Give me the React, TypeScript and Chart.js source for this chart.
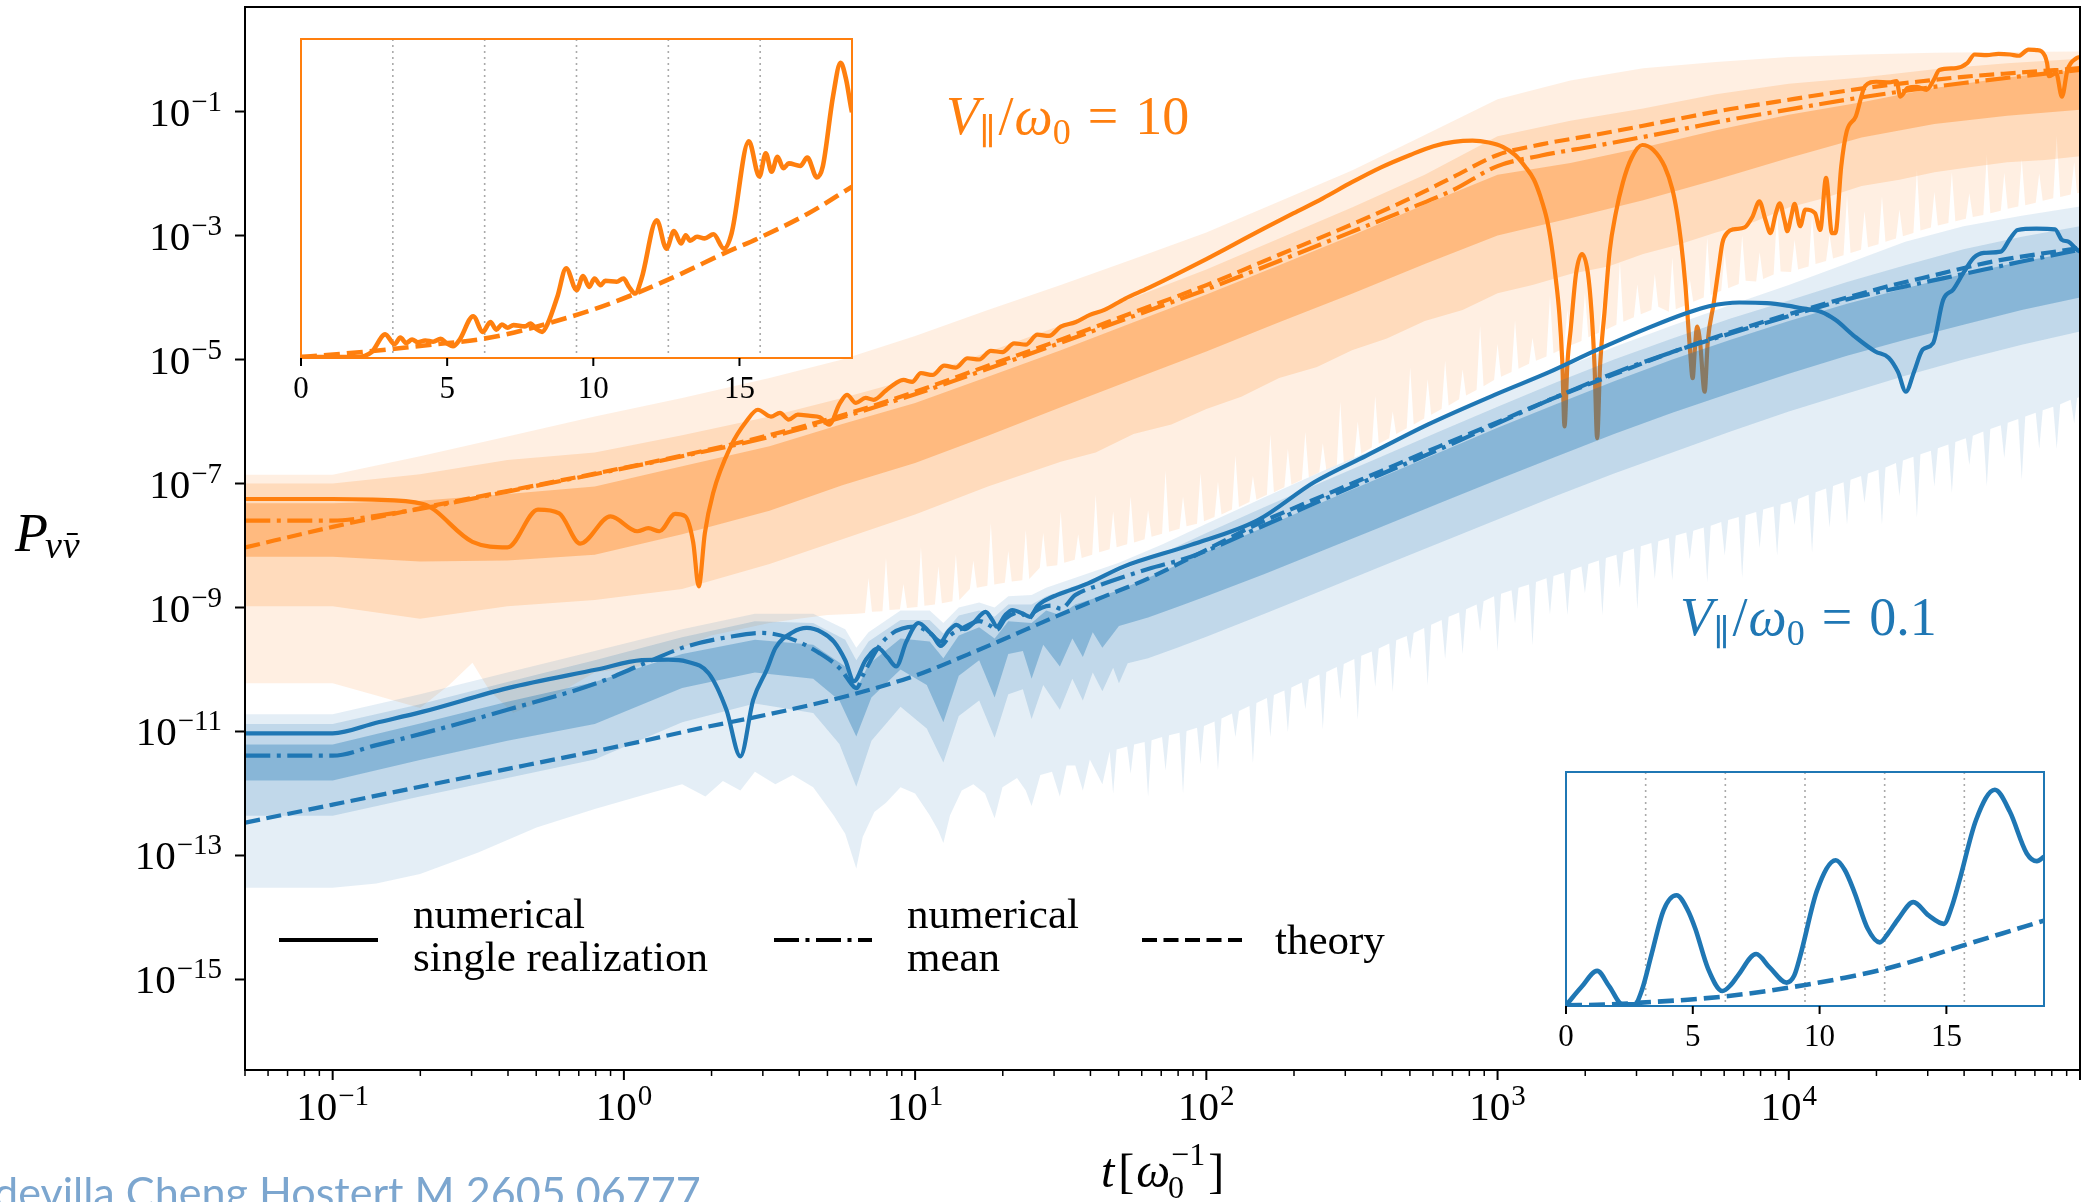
import React, { useEffect, useRef } from 'react';
import { Chart, registerables } from 'chart.js';

Chart.register(...registerables);

const SERIF = '"Liberation Serif", "DejaVu Serif", serif';
const SANS = 'Lato, "Open Sans", sans-serif';
const ORANGE = '#ff7f0e';
const BLUE = '#1f77b4';

// ---------- axes ----------
const X_MIN = 0.05;
const X_MAX = 1e5;
const Y_MIN_EXP = -16.46;
const Y_MAX_EXP = 0.686;
const X_TICK_EXPONENTS = [-1, 0, 1, 2, 3, 4];
const Y_TICK_EXPONENTS = [-1, -3, -5, -7, -9, -11, -13, -15];
const INSET_TICKS = [0, 5, 10, 15];
const INSET_T_MAX = 6 * Math.PI;
const INSET_GRID_MULTIPLES = [1, 2, 3, 4, 5]; // dotted lines at k*pi
const LEGEND_LABELS = [['numerical', 'single realization'], ['numerical', 'mean'], ['theory']];
const ANNOTATION_VALUES = ['10', '0.1'];
const WATERMARK = 'devilla Cheng Hostert M 2605.06777';

// ---------- main plot data: [log10 t, log10 P] ----------
const orangeTheoryLog = [
  [-1.3, -8.03], [-1.0, -7.7], [-0.7, -7.4], [-0.4, -7.12], [-0.1, -6.84], [0.2, -6.55], [0.5, -6.22],
  [0.75, -5.9], [1.0, -5.52], [1.25, -5.1], [1.5, -4.68], [1.75, -4.24], [2.0, -3.8], [2.25, -3.31],
  [2.5, -2.82], [2.7, -2.4], [2.85, -2.05], [3.0, -1.7], [3.15, -1.53], [3.33, -1.38], [3.5, -1.23],
  [3.64, -1.1], [3.8, -0.96], [3.96, -0.84], [4.12, -0.72], [4.28, -0.61], [4.44, -0.52], [4.6, -0.44],
  [4.8, -0.37], [5.0, -0.3],
];
const orangeMeanLog = [
  [-1.3, -7.6], [-1.0, -7.6], [-0.85, -7.52], [-0.7, -7.41], [-0.4, -7.13], [-0.1, -6.85], [0.2, -6.56],
  [0.5, -6.25], [0.75, -5.93], [1.0, -5.56], [1.25, -5.15], [1.5, -4.73], [1.75, -4.3], [2.0, -3.87],
  [2.25, -3.41], [2.5, -2.94], [2.7, -2.56], [2.85, -2.26], [3.0, -1.88], [3.15, -1.71], [3.33, -1.56],
  [3.5, -1.41], [3.64, -1.28], [3.8, -1.13], [3.96, -1.0], [4.12, -0.87], [4.28, -0.75], [4.44, -0.64],
  [4.6, -0.54], [4.8, -0.43], [5.0, -0.33],
];
const orangeSingleLog = [
  [-1.3, -7.25], [-1.0, -7.25], [-0.86, -7.26], [-0.69, -7.33], [-0.52, -7.94], [-0.4, -8.03], [-0.295, -7.42],
  [-0.222, -7.48], [-0.15, -7.97], [-0.046, -7.53], [0.046, -7.77], [0.084, -7.72], [0.122, -7.77],
  [0.176, -7.49], [0.211, -7.53], [0.238, -7.95], [0.257, -8.66], [0.278, -7.8], [0.306, -7.16],
  [0.367, -6.4], [0.42, -6.0], [0.46, -5.81], [0.505, -5.92], [0.536, -5.86], [0.566, -5.97], [0.597, -5.89],
  [0.64, -5.91], [0.673, -5.93], [0.705, -6.05], [0.74, -5.72], [0.766, -5.57], [0.797, -5.7], [0.83, -5.62],
  [0.858, -5.65], [0.9, -5.5], [0.934, -5.38], [0.96, -5.33], [0.99, -5.36], [1.02, -5.22], [1.06, -5.25],
  [1.1, -5.1], [1.14, -5.13], [1.18, -4.98], [1.22, -5.0], [1.26, -4.86], [1.3, -4.88], [1.34, -4.74],
  [1.38, -4.76], [1.42, -4.6], [1.46, -4.62], [1.5, -4.47], [1.55, -4.4], [1.6, -4.28], [1.65, -4.2],
  [1.72, -4.02], [1.8, -3.85], [1.9, -3.62], [2.0, -3.38], [2.1, -3.13], [2.2, -2.88], [2.3, -2.64],
  [2.4, -2.4], [2.5, -2.14], [2.6, -1.9], [2.7, -1.7], [2.78, -1.56], [2.85, -1.49], [2.914, -1.47],
  [2.97, -1.5], [3.018, -1.57], [3.06, -1.7], [3.095, -1.89], [3.125, -2.1], [3.147, -2.37], [3.17, -2.75],
  [3.186, -3.18], [3.2, -3.7], [3.212, -4.25], [3.222, -5.0], [3.23, -6.08], [3.24, -5.05], [3.251, -4.52],
  [3.27, -3.6], [3.29, -3.3], [3.31, -3.6], [3.323, -4.25], [3.333, -5.1], [3.342, -6.27], [3.352, -5.1],
  [3.367, -4.25], [3.385, -3.25], [3.406, -2.64], [3.43, -2.15], [3.46, -1.75], [3.497, -1.54],
  [3.535, -1.62], [3.574, -1.89], [3.6, -2.25], [3.615, -2.6], [3.63, -3.1], [3.645, -3.8], [3.66, -4.79],
  [3.67, -5.3], [3.678, -4.8], [3.685, -4.47], [3.695, -4.7], [3.711, -5.52], [3.722, -4.7], [3.742, -4.1],
  [3.76, -3.5], [3.772, -3.12], [3.79, -2.95], [3.81, -2.9], [3.848, -2.87], [3.875, -2.7], [3.899, -2.45],
  [3.92, -2.75], [3.937, -2.96], [3.955, -2.65], [3.969, -2.48], [3.985, -2.75], [3.995, -2.93],
  [4.008, -2.7], [4.02, -2.49], [4.039, -2.85], [4.057, -2.58], [4.09, -2.64], [4.108, -2.91],
  [4.128, -2.07], [4.148, -2.96], [4.16, -2.96], [4.18, -1.89], [4.199, -1.32], [4.23, -1.08],
  [4.262, -0.59], [4.3, -0.52], [4.345, -0.53], [4.37, -0.51], [4.383, -0.76], [4.408, -0.62], [4.44, -0.6],
  [4.473, -0.65], [4.498, -0.49], [4.517, -0.33], [4.575, -0.3], [4.613, -0.22], [4.638, -0.08],
  [4.68, -0.09], [4.72, -0.07], [4.76, -0.08], [4.79, -0.1], [4.823, 0.0], [4.85, -0.01], [4.868, -0.03],
  [4.887, -0.22], [4.893, -0.43], [4.918, -0.38], [4.938, -0.76], [4.957, -0.33], [4.988, -0.14], [5.0, -0.12],
];
const orangeLightTopLog = [
  [-1.3, -6.86], [-1.0, -6.86], [-0.7, -6.56], [-0.4, -6.24], [-0.1, -5.92], [0.2, -5.62], [0.5, -5.3],
  [0.75, -5.0], [1.0, -4.62], [1.25, -4.2], [1.5, -3.8], [1.75, -3.38], [2.0, -2.95], [2.25, -2.45],
  [2.5, -1.95], [2.75, -1.38], [3.0, -0.8], [3.25, -0.5], [3.5, -0.3], [3.75, -0.2], [4.0, -0.12],
  [4.25, -0.08], [4.5, -0.05], [4.75, -0.04], [5.0, -0.03],
];
const orangeLightBottomLog = [
  [-1.3, -10.22], [-1.0, -10.22], [-0.85, -10.42], [-0.7, -10.62], [-0.6, -10.25], [-0.52, -9.89],
  [-0.46, -10.35], [-0.38, -10.7], [-0.25, -10.45], [-0.1, -10.05], [0.05, -9.95], [0.2, -9.65], [0.3, -9.45],
  [0.4, -9.35], [0.5, -9.25], [0.6, -9.18], [0.7, -9.12], [0.8, -9.1],
  [0.828, -9.09], [0.84, -8.53], [0.852, -9.07], [0.888, -9.06], [0.9, -8.2], [0.912, -9.04],
  [0.948, -9.03], [0.96, -8.62], [0.972, -9.01], [1.008, -8.99], [1.02, -8.03], [1.032, -8.97],
  [1.068, -8.95], [1.08, -8.34], [1.092, -8.93], [1.128, -8.9], [1.14, -8.14], [1.152, -8.88],
  [1.188, -8.7], [1.2, -8.24], [1.212, -8.68], [1.248, -8.65], [1.26, -7.64], [1.272, -8.63],
  [1.308, -8.6], [1.32, -8.09], [1.332, -8.58], [1.368, -8.56], [1.38, -7.75], [1.392, -8.54],
  [1.428, -8.36], [1.44, -7.8], [1.452, -8.34], [1.488, -8.32], [1.5, -7.45], [1.512, -8.28],
  [1.548, -8.23], [1.56, -7.82], [1.572, -8.2], [1.608, -8.15], [1.62, -7.18], [1.632, -8.11],
  [1.668, -8.06], [1.68, -7.45], [1.692, -8.03], [1.728, -7.98], [1.74, -7.21], [1.752, -7.95],
  [1.788, -7.9], [1.8, -7.43], [1.812, -7.86], [1.848, -7.81], [1.86, -6.8], [1.872, -7.78],
  [1.908, -7.73], [1.92, -7.21], [1.932, -7.69], [1.968, -7.65], [1.98, -6.83], [1.992, -7.61],
  [2.028, -7.54], [2.04, -6.97], [2.052, -7.5], [2.088, -7.42], [2.1, -6.55], [2.112, -7.38],
  [2.148, -7.3], [2.16, -6.88], [2.172, -7.26], [2.208, -7.18], [2.22, -6.21], [2.232, -7.14],
  [2.268, -7.06], [2.28, -6.44], [2.292, -7.02], [2.328, -6.94], [2.34, -6.17], [2.352, -6.9],
  [2.388, -6.82], [2.4, -6.35], [2.412, -6.78], [2.448, -6.7], [2.46, -5.68], [2.472, -6.66],
  [2.508, -6.58], [2.52, -6.0], [2.532, -6.52], [2.568, -6.42], [2.58, -5.59], [2.592, -6.36],
  [2.628, -6.27], [2.64, -5.84], [2.652, -6.2], [2.688, -6.11], [2.7, -5.13], [2.712, -6.05],
  [2.748, -5.95], [2.76, -5.32], [2.772, -5.89], [2.808, -5.8], [2.82, -5.02], [2.832, -5.74],
  [2.868, -5.64], [2.88, -5.16], [2.892, -5.58], [2.928, -5.49], [2.94, -4.46], [2.952, -5.43],
  [2.988, -5.33], [3.0, -4.75], [3.012, -5.28], [3.048, -5.2], [3.06, -4.37], [3.072, -5.15],
  [3.108, -5.07], [3.12, -4.65], [3.132, -5.02], [3.168, -4.95], [3.18, -3.97], [3.192, -4.9],
  [3.228, -4.82], [3.24, -4.2], [3.252, -4.77], [3.288, -4.7], [3.3, -3.92], [3.312, -4.64],
  [3.348, -4.57], [3.36, -4.09], [3.372, -4.52], [3.408, -4.44], [3.42, -3.42], [3.432, -4.39],
  [3.468, -4.32], [3.48, -3.79], [3.492, -4.27], [3.528, -4.2], [3.54, -3.62], [3.552, -4.15],
  [3.588, -4.23], [3.6, -3.36], [3.612, -4.19], [3.648, -4.12], [3.66, -3.7], [3.672, -4.07],
  [3.708, -4.0], [3.72, -3.03], [3.732, -3.96], [3.768, -3.89], [3.78, -3.27], [3.792, -3.85],
  [3.828, -3.78], [3.84, -3.0], [3.852, -3.73], [3.888, -3.74], [3.9, -3.27], [3.912, -3.7],
  [3.948, -3.63], [3.96, -2.61], [3.972, -3.58], [4.008, -3.59], [4.02, -3.07], [4.032, -3.55],
  [4.068, -3.5], [4.08, -2.68], [4.092, -3.46], [4.128, -3.41], [4.14, -2.99], [4.152, -3.37],
  [4.188, -3.32], [4.2, -2.35], [4.212, -3.28], [4.248, -3.23], [4.26, -2.61], [4.272, -3.19],
  [4.308, -3.14], [4.32, -2.37], [4.332, -3.1], [4.368, -3.05], [4.38, -2.58], [4.392, -3.01],
  [4.428, -2.96], [4.44, -1.94], [4.452, -2.92], [4.488, -2.87], [4.5, -2.3], [4.512, -2.84],
  [4.548, -2.8], [4.56, -1.98], [4.572, -2.77], [4.608, -2.73], [4.62, -2.32], [4.632, -2.7],
  [4.668, -2.67], [4.68, -1.7], [4.692, -2.64], [4.728, -2.6], [4.74, -1.99], [4.752, -2.57],
  [4.788, -2.53], [4.8, -1.77], [4.812, -2.51], [4.848, -2.47], [4.86, -2.0], [4.872, -2.44],
  [4.908, -2.4], [4.92, -1.39], [4.932, -2.38], [4.968, -2.34], [4.98, -1.82], [4.99, -2.32], [5.0, -2.31],
];
const orangeMidTopLog = [
  [-1.3, -7.0], [-1.0, -7.0], [-0.7, -6.85], [-0.4, -6.62], [-0.1, -6.5], [0.2, -6.22], [0.5, -5.92],
  [0.75, -5.62], [1.0, -5.3], [1.25, -4.88], [1.5, -4.45], [1.75, -4.0], [2.0, -3.55], [2.25, -3.05],
  [2.5, -2.55], [2.75, -2.02], [3.0, -1.4], [3.25, -1.15], [3.5, -0.95], [3.75, -0.72], [4.0, -0.55],
  [4.25, -0.45], [4.5, -0.32], [4.75, -0.22], [5.0, -0.15],
];
const orangeMidBottomLog = [
  [-1.3, -8.98], [-1.0, -8.98], [-0.7, -9.18], [-0.4, -8.98], [-0.1, -8.88], [0.2, -8.7], [0.5, -8.3],
  [0.75, -7.9], [1.0, -7.5], [1.25, -7.05], [1.5, -6.65], [1.62, -6.5], [1.75, -6.2], [1.88, -6.05],
  [2.0, -5.8], [2.12, -5.6], [2.25, -5.3], [2.38, -5.12], [2.5, -4.85], [2.62, -4.66], [2.75, -4.38],
  [2.88, -4.2], [3.0, -3.93], [3.12, -3.8], [3.25, -3.62], [3.38, -3.5], [3.5, -3.3], [3.62, -3.15],
  [3.75, -2.95], [3.88, -2.78], [4.0, -2.55], [4.12, -2.4], [4.25, -2.2], [4.38, -2.1], [4.5, -1.98],
  [4.62, -1.9], [4.75, -1.82], [4.88, -1.78], [5.0, -1.72],
];
const orangeDarkTopLog = [
  [-1.3, -7.32], [-1.0, -7.32], [-0.7, -7.28], [-0.4, -7.17], [-0.1, -7.05], [0.2, -6.72], [0.5, -6.4],
  [0.75, -6.04], [1.0, -5.7], [1.25, -5.28], [1.5, -4.85], [1.75, -4.4], [2.0, -3.95], [2.25, -3.48],
  [2.5, -3.0], [2.75, -2.5], [3.0, -2.02], [3.25, -1.83], [3.5, -1.58], [3.75, -1.3], [4.0, -1.05],
  [4.25, -0.85], [4.5, -0.62], [4.75, -0.45], [5.0, -0.32],
];
const orangeDarkBottomLog = [
  [-1.3, -8.18], [-1.0, -8.18], [-0.7, -8.26], [-0.4, -8.24], [-0.1, -8.15], [0.2, -7.82], [0.5, -7.44],
  [0.75, -7.03], [1.0, -6.67], [1.25, -6.23], [1.5, -5.77], [1.75, -5.32], [2.0, -4.87], [2.25, -4.4],
  [2.5, -3.94], [2.75, -3.46], [3.0, -3.0], [3.25, -2.72], [3.5, -2.43], [3.75, -2.1], [4.0, -1.75],
  [4.25, -1.42], [4.5, -1.2], [4.75, -1.07], [5.0, -0.97],
];

const blueTheoryLog = [
  [-1.3, -12.47], [-1.0, -12.18], [-0.5, -11.7], [0.0, -11.22], [0.26, -10.95], [0.5, -10.72], [0.78, -10.41],
  [1.0, -10.1], [1.18, -9.76], [1.3, -9.52], [1.486, -9.14], [1.65, -8.82], [1.792, -8.55], [2.0, -8.07],
  [2.177, -7.65], [2.4, -7.2], [2.6, -6.8], [2.8, -6.4], [3.0, -6.01], [3.179, -5.65], [3.4, -5.24],
  [3.6, -4.88], [3.8, -4.56], [4.0, -4.27], [4.2, -4.0], [4.34, -3.82], [4.5, -3.64], [4.7, -3.42], [5.0, -3.2],
];
const blueMeanLog = [
  [-1.3, -11.39], [-1.0, -11.39], [-0.85, -11.22], [-0.69, -11.03], [-0.4, -10.65], [-0.093, -10.22],
  [0.061, -9.92], [0.214, -9.63], [0.367, -9.47], [0.475, -9.41], [0.566, -9.49], [0.673, -9.74],
  [0.745, -10.0], [0.79, -10.28], [0.8, -10.3], [0.82, -10.1], [0.889, -9.55], [0.997, -9.31], [1.06, -9.45],
  [1.088, -9.62], [1.12, -9.45], [1.165, -9.33], [1.22, -9.22], [1.26, -9.3], [1.28, -9.36], [1.31, -9.18],
  [1.36, -9.08], [1.39, -9.18], [1.41, -9.07], [1.47, -8.97], [1.5, -9.02], [1.55, -8.8], [1.64, -8.63],
  [1.8, -8.38], [1.947, -8.18], [2.177, -7.72], [2.4, -7.26], [2.6, -6.85], [2.8, -6.45], [3.0, -6.03],
  [3.179, -5.65], [3.4, -5.22], [3.6, -4.88], [3.8, -4.58], [4.0, -4.3], [4.2, -4.03], [4.4, -3.82],
  [4.6, -3.62], [4.8, -3.42], [5.0, -3.23],
];
const blueSingleLog = [
  [-1.3, -11.03], [-1.0, -11.03], [-0.85, -10.86], [-0.69, -10.68], [-0.399, -10.3], [-0.093, -10.0],
  [0.061, -9.85], [0.153, -9.84], [0.214, -9.87], [0.291, -10.06], [0.352, -10.65], [0.4, -11.4],
  [0.444, -10.49], [0.491, -10.0], [0.521, -9.65], [0.58, -9.4], [0.628, -9.33], [0.68, -9.4], [0.721, -9.55],
  [0.76, -9.85], [0.79, -10.19], [0.83, -9.85], [0.874, -9.66], [0.905, -9.8], [0.935, -9.95], [0.97, -9.55],
  [1.012, -9.25], [1.05, -9.4], [1.088, -9.55], [1.115, -9.38], [1.142, -9.28], [1.17, -9.35], [1.2, -9.25],
  [1.242, -9.07], [1.265, -9.2], [1.28, -9.31], [1.31, -9.12], [1.334, -9.04], [1.37, -9.1], [1.394, -9.15],
  [1.42, -8.98], [1.441, -8.9], [1.486, -8.8], [1.533, -8.72], [1.594, -8.61], [1.716, -8.34], [1.947, -7.99],
  [2.177, -7.59], [2.37, -6.98], [2.55, -6.55], [2.76, -6.05], [3.0, -5.55], [3.179, -5.2], [3.33, -4.87],
  [3.528, -4.47], [3.65, -4.25], [3.726, -4.14], [3.83, -4.08], [3.924, -4.09], [3.994, -4.13], [4.053, -4.18],
  [4.11, -4.23], [4.16, -4.36], [4.227, -4.63], [4.297, -4.87], [4.343, -4.97], [4.375, -5.2], [4.402, -5.52],
  [4.43, -5.2], [4.46, -4.84], [4.495, -4.74], [4.53, -4.04], [4.565, -3.87], [4.6, -3.6], [4.635, -3.36],
  [4.67, -3.28], [4.728, -3.26], [4.76, -3.05], [4.786, -2.91], [4.85, -2.89], [4.914, -2.9], [4.938, -3.07],
  [4.96, -3.1], [4.99, -3.23], [5.0, -3.26],
];
const blueLightTopLog = [
  [-1.3, -10.72], [-1.0, -10.72], [-0.7, -10.4], [-0.4, -10.05], [-0.1, -9.7], [0.2, -9.35], [0.45, -9.1],
  [0.65, -9.1], [0.76, -9.35], [0.798, -9.65], [0.84, -9.4], [0.95, -9.05], [1.05, -9.05], [1.097, -9.25],
  [1.15, -9.0], [1.22, -8.92], [1.273, -9.0], [1.32, -8.82], [1.4, -8.8], [1.45, -8.68], [1.55, -8.52],
  [1.7, -8.28], [1.85, -7.98], [2.0, -7.65], [2.2, -7.22], [2.4, -6.8], [2.6, -6.4], [2.8, -5.98], [3.0, -5.58],
  [3.2, -5.18], [3.4, -4.8], [3.6, -4.45], [3.8, -4.12], [4.0, -3.8], [4.2, -3.45], [4.4, -3.1], [4.6, -2.85],
  [4.8, -2.68], [5.0, -2.53],
];
const blueLightBottomLog = [
  [-1.3, -13.52], [-1.0, -13.52], [-0.85, -13.45], [-0.7, -13.3], [-0.5, -12.95], [-0.3, -12.55], [-0.1, -12.25],
  [0.1, -11.98], [0.2, -11.85], [0.28, -12.05], [0.34, -11.8], [0.4, -11.95], [0.45, -11.65], [0.52, -11.85],
  [0.58, -11.7], [0.65, -11.9], [0.72, -12.35], [0.76, -12.65], [0.798, -13.21], [0.82, -12.7], [0.86, -12.3],
  [0.9, -12.15], [0.95, -11.9], [1.0, -12.0], [1.05, -12.35], [1.08, -12.6], [1.097, -12.8], [1.12, -12.35],
  [1.16, -11.95], [1.2, -11.85], [1.24, -12.0], [1.273, -12.4], [1.3, -11.9], [1.35, -11.75], [1.38, -11.95],
  [1.4, -12.2], [1.43, -11.7], [1.47, -11.65], [1.497, -12.05], [1.52, -11.55], [1.55, -11.55], [1.576, -11.95],
  [1.6, -11.45], [1.643, -11.85],
  [1.668, -11.32], [1.68, -12.0], [1.692, -11.29], [1.728, -11.24], [1.74, -11.68], [1.752, -11.21],
  [1.788, -11.17], [1.8, -12.05], [1.812, -11.14], [1.848, -11.09], [1.86, -11.63], [1.872, -11.06],
  [1.908, -11.02], [1.92, -12.0], [1.932, -10.99], [1.968, -10.94], [1.98, -11.53], [1.992, -10.91],
  [2.028, -10.84], [2.04, -11.62], [2.052, -10.79], [2.088, -10.71], [2.1, -11.09], [2.112, -10.67],
  [2.148, -10.59], [2.16, -11.51], [2.172, -10.54], [2.208, -10.46], [2.22, -11.09], [2.232, -10.41],
  [2.268, -10.34], [2.28, -11.01], [2.292, -10.29], [2.328, -10.21], [2.34, -10.64], [2.352, -10.16],
  [2.388, -10.08], [2.4, -10.96], [2.412, -10.04], [2.448, -9.96], [2.46, -10.48], [2.472, -9.91],
  [2.508, -9.83], [2.52, -10.81], [2.532, -9.78], [2.568, -9.71], [2.58, -10.28], [2.592, -9.66],
  [2.628, -9.58], [2.64, -10.36], [2.652, -9.53], [2.688, -9.46], [2.7, -9.83], [2.712, -9.41],
  [2.748, -9.33], [2.76, -10.25], [2.772, -9.28], [2.808, -9.2], [2.82, -9.83], [2.832, -9.15],
  [2.868, -9.08], [2.88, -9.75], [2.892, -9.03], [2.928, -8.95], [2.94, -9.38], [2.952, -8.9],
  [2.988, -8.82], [3.0, -9.7], [3.012, -8.78], [3.048, -8.72], [3.06, -9.26], [3.072, -8.68],
  [3.108, -8.63], [3.12, -9.61], [3.132, -8.59], [3.168, -8.53], [3.18, -9.11], [3.192, -8.49],
  [3.228, -8.44], [3.24, -9.12], [3.252, -8.4], [3.288, -8.34], [3.3, -8.77], [3.312, -8.3],
  [3.348, -8.24], [3.36, -9.12], [3.372, -8.2], [3.408, -8.15], [3.42, -8.68], [3.432, -8.11],
  [3.468, -8.05], [3.48, -9.03], [3.492, -8.01], [3.528, -7.96], [3.54, -8.54], [3.552, -7.93],
  [3.588, -7.88], [3.6, -8.56], [3.612, -7.84], [3.648, -7.79], [3.66, -8.22], [3.672, -7.76],
  [3.708, -7.71], [3.72, -8.59], [3.732, -7.68], [3.768, -7.62], [3.78, -8.16], [3.792, -7.59],
  [3.828, -7.54], [3.84, -8.52], [3.852, -7.51], [3.888, -7.46], [3.9, -8.04], [3.912, -7.42],
  [3.948, -7.37], [3.96, -8.16], [3.972, -7.34], [4.008, -7.29], [4.02, -7.67], [4.032, -7.25],
  [4.068, -7.18], [4.08, -8.11], [4.092, -7.14], [4.128, -7.08], [4.14, -7.71], [4.152, -7.04],
  [4.188, -6.98], [4.2, -7.66], [4.212, -6.94], [4.248, -6.88], [4.26, -7.31], [4.272, -6.84],
  [4.308, -6.78], [4.32, -7.66], [4.332, -6.74], [4.368, -6.67], [4.38, -7.2], [4.392, -6.63],
  [4.428, -6.57], [4.44, -7.55], [4.452, -6.53], [4.488, -6.47], [4.5, -7.05], [4.512, -6.43],
  [4.548, -6.37], [4.56, -7.15], [4.572, -6.33], [4.608, -6.27], [4.62, -6.7], [4.632, -6.23],
  [4.668, -6.16], [4.68, -7.04], [4.692, -6.12], [4.728, -6.06], [4.74, -6.59], [4.752, -6.02],
  [4.788, -5.96], [4.8, -6.94], [4.812, -5.92], [4.848, -5.86], [4.86, -6.44], [4.872, -5.82],
  [4.908, -5.76], [4.92, -6.44], [4.932, -5.72], [4.968, -5.65], [4.98, -6.03], [4.99, -5.62], [5.0, -5.6],
];
const blueMidTopLog = [
  [-1.3, -10.88], [-1.0, -10.88], [-0.7, -10.56], [-0.4, -10.2], [-0.1, -9.85], [0.2, -9.48], [0.45, -9.22],
  [0.65, -9.25], [0.76, -9.52], [0.798, -9.85], [0.84, -9.55], [0.95, -9.2], [1.05, -9.2], [1.097, -9.42],
  [1.15, -9.13], [1.22, -9.05], [1.273, -9.15], [1.32, -8.95], [1.4, -8.95], [1.45, -8.82], [1.55, -8.65],
  [1.7, -8.42], [1.85, -8.12], [2.0, -7.8], [2.2, -7.38], [2.4, -6.97], [2.6, -6.57], [2.8, -6.16],
  [3.0, -5.76], [3.2, -5.37], [3.4, -5.0], [3.6, -4.66], [3.8, -4.34], [4.0, -4.05], [4.2, -3.75],
  [4.4, -3.48], [4.6, -3.22], [4.8, -3.02], [5.0, -2.85],
];
const blueMidBottomLog = [
  [-1.3, -12.36], [-1.0, -12.36], [-0.7, -12.05], [-0.4, -11.75], [-0.1, -11.45], [0.2, -10.85], [0.45, -10.55],
  [0.65, -10.7], [0.74, -11.2], [0.798, -11.89], [0.85, -11.15], [0.95, -10.6], [1.04, -10.95], [1.097, -11.5],
  [1.15, -10.75], [1.22, -10.5], [1.273, -11.1], [1.32, -10.4], [1.37, -10.32], [1.4, -10.8], [1.44, -10.25],
  [1.497, -10.65], [1.54, -10.15], [1.576, -10.5], [1.61, -10.05], [1.643, -10.35], [1.68, -9.97], [1.7, -10.22],
  [1.73, -9.9], [1.8, -9.82], [1.9, -9.65], [2.0, -9.47], [2.2, -9.1], [2.4, -8.72], [2.6, -8.34],
  [2.8, -7.96], [3.0, -7.58], [3.2, -7.2], [3.4, -6.84], [3.6, -6.5], [3.8, -6.16], [4.0, -5.84],
  [4.2, -5.55], [4.4, -5.26], [4.6, -5.0], [4.8, -4.76], [5.0, -4.55],
];
const blueDarkTopLog = [
  [-1.3, -11.21], [-1.0, -11.21], [-0.7, -10.87], [-0.4, -10.52], [-0.1, -10.2], [0.2, -9.75], [0.45, -9.52],
  [0.65, -9.6], [0.76, -9.95], [0.798, -10.33], [0.84, -9.92], [0.95, -9.5], [1.05, -9.55], [1.097, -9.82],
  [1.15, -9.45], [1.22, -9.32], [1.273, -9.5], [1.32, -9.22], [1.4, -9.25], [1.45, -9.05], [1.497, -9.12],
  [1.55, -8.95], [1.7, -8.72], [1.85, -8.42], [2.0, -8.1], [2.2, -7.7], [2.4, -7.3], [2.6, -6.9], [2.8, -6.5],
  [3.0, -6.1], [3.2, -5.72], [3.4, -5.35], [3.6, -5.0], [3.8, -4.68], [4.0, -4.38], [4.2, -4.1], [4.4, -3.85],
  [4.6, -3.62], [4.8, -3.42], [5.0, -3.25],
];
const blueDarkBottomLog = [
  [-1.3, -11.79], [-1.0, -11.79], [-0.7, -11.46], [-0.4, -11.15], [-0.1, -10.88], [0.2, -10.3], [0.45, -10.05],
  [0.65, -10.15], [0.74, -10.5], [0.798, -11.08], [0.85, -10.45], [0.95, -10.0], [1.04, -10.25], [1.097, -10.85],
  [1.15, -10.1], [1.22, -9.85], [1.273, -10.45], [1.32, -9.75], [1.37, -9.7], [1.4, -10.15], [1.44, -9.6],
  [1.497, -9.95], [1.54, -9.5], [1.576, -9.8], [1.61, -9.4], [1.643, -9.65], [1.7, -9.3], [1.8, -9.16],
  [1.9, -8.99], [2.0, -8.82], [2.2, -8.46], [2.4, -8.08], [2.6, -7.7], [2.8, -7.32], [3.0, -6.94], [3.2, -6.57],
  [3.4, -6.2], [3.6, -5.86], [3.8, -5.54], [4.0, -5.23], [4.2, -4.94], [4.4, -4.68], [4.6, -4.44],
  [4.8, -4.2], [5.0, -4.0],
];

// ---------- inset data: [t, fraction of inset height] ----------
const orangeInsetSingle = [
  [0, 0.003], [1.9, 0.003], [2.42, 0.019], [2.88, 0.074], [3.2, 0.043], [3.4, 0.064], [3.6, 0.047], [3.8, 0.058],
  [4.0, 0.049], [4.25, 0.055], [4.52, 0.051], [4.78, 0.06], [4.97, 0.047], [5.2, 0.037], [5.43, 0.058],
  [5.89, 0.131], [6.22, 0.082], [6.48, 0.113], [6.68, 0.089], [6.87, 0.105], [7.07, 0.095], [7.27, 0.103],
  [7.66, 0.099], [7.85, 0.108], [8.05, 0.091], [8.25, 0.082], [8.44, 0.108], [8.77, 0.192], [9.07, 0.281],
  [9.43, 0.213], [9.65, 0.257], [9.86, 0.223], [10.04, 0.249], [10.25, 0.228], [10.41, 0.242], [10.8, 0.239],
  [11.03, 0.249], [11.22, 0.223], [11.43, 0.202], [11.65, 0.249], [12.17, 0.432], [12.5, 0.343], [12.76, 0.398],
  [13.0, 0.359], [13.16, 0.385], [13.31, 0.368], [13.55, 0.38], [13.81, 0.375], [14.11, 0.388], [14.47, 0.343],
  [14.73, 0.391], [15.32, 0.679], [15.68, 0.569], [15.9, 0.642], [16.1, 0.584], [16.3, 0.631], [16.5, 0.595],
  [16.69, 0.61], [17.08, 0.602], [17.32, 0.628], [17.65, 0.566], [17.85, 0.6], [18.2, 0.82], [18.46, 0.925],
  [18.65, 0.872], [18.81, 0.788], [18.85, 0.77],
];
const orangeInsetTheory = [
  [0, 0.003], [1, 0.01], [2, 0.018], [3.2, 0.029], [4.5, 0.042], [6.08, 0.058], [7.3, 0.08], [8.44, 0.108],
  [10, 0.152], [11.45, 0.202], [13, 0.264], [14.47, 0.328], [15.64, 0.375], [17.35, 0.453], [18.85, 0.537],
];
const blueInsetSingle = [
  [0, 0.003], [0.6, 0.08], [1.23, 0.15], [1.7, 0.085], [2.23, 0.007], [2.7, 0.007], [3.0, 0.07], [3.36, 0.215],
  [3.85, 0.41], [4.36, 0.473], [4.8, 0.41], [5.1, 0.33], [5.6, 0.16], [6.17, 0.064], [6.5, 0.09], [6.77, 0.129],
  [7.5, 0.222], [8.03, 0.165], [8.7, 0.1], [9.0, 0.13], [9.24, 0.215], [9.9, 0.494], [10.64, 0.623],
  [11.0, 0.58], [11.37, 0.487], [11.9, 0.33], [12.37, 0.272], [12.7, 0.31], [13.1, 0.372], [13.7, 0.444],
  [14.3, 0.387], [14.9, 0.351], [15.2, 0.42], [15.5, 0.53], [16.17, 0.795], [16.91, 0.924], [17.5, 0.831],
  [18.17, 0.652], [18.57, 0.619], [18.85, 0.638],
];
const blueInsetTheory = [
  [0, 0.003], [1.5, 0.006], [3.36, 0.017], [4.8, 0.027], [6.17, 0.04], [7.8, 0.062], [9.37, 0.089],
  [11.0, 0.121], [12.57, 0.158], [14.1, 0.205], [15.64, 0.258], [17.2, 0.31], [18.85, 0.365],
];

// ---------- styles ----------
const LINE_W = 4.2;
const DASHED = [15, 6.5];
const DASHDOT = [25, 6.5, 4, 6.5];

const logPts = (arr: number[][]) => arr.map(([a, b]) => ({ x: Math.pow(10, a), y: Math.pow(10, b) }));
const linPts = (arr: number[][]) => arr.map(([a, b]) => ({ x: a, y: b }));
const expStr = (e: number) => (e < 0 ? '\u2212' + Math.abs(e) : String(e));

type Run = { t: string; f: string; dy?: number; gap?: number };
function drawRuns(ctx: CanvasRenderingContext2D, x: number, y: number, runs: Run[], align: string) {
  let total = 0;
  for (const r of runs) {
    ctx.font = r.f;
    total += (r.gap || 0) + ctx.measureText(r.t).width;
  }
  let cx = align === 'left' ? x : align === 'right' ? x - total : x - total / 2;
  for (const r of runs) {
    ctx.font = r.f;
    cx += r.gap || 0;
    ctx.fillText(r.t, cx, y + (r.dy || 0));
    cx += ctx.measureText(r.t).width;
  }
}

function powerLabel(ctx: CanvasRenderingContext2D, x: number, y: number, e: number, align: string) {
  drawRuns(ctx, x, y, [
    { t: '10', f: `41px ${SERIF}` },
    { t: expStr(e), f: `29px ${SERIF}`, dy: -15, gap: 1 },
  ], align);
}

function drawVLabel(ctx: CanvasRenderingContext2D, x: number, y: number, value: string, color: string) {
  ctx.fillStyle = color;
  drawRuns(ctx, x, y, [
    { t: 'V', f: `italic 54px ${SERIF}` },
    { t: '\u2225', f: `36px ${SERIF}`, dy: 10, gap: 0 },
    { t: '/', f: `54px ${SERIF}`, gap: 3 },
    { t: '\u03c9', f: `italic 54px ${SERIF}`, gap: 1 },
    { t: '0', f: `36px ${SERIF}`, dy: 10, gap: 0 },
    { t: '=', f: `54px ${SERIF}`, gap: 17 },
    { t: value, f: `54px ${SERIF}`, gap: 17 },
  ], 'left');
}

const mainDecor = {
  id: 'mainDecor',
  afterDraw(chart: any) {
    const { ctx, chartArea: a } = chart;
    const xs = chart.scales.x;
    const ys = chart.scales.y;
    ctx.save();
    ctx.setLineDash([]);
    ctx.strokeStyle = '#000';
    ctx.fillStyle = '#000';
    ctx.textBaseline = 'alphabetic';
    ctx.lineWidth = 2;
    ctx.strokeRect(a.left, a.top, a.right - a.left, a.bottom - a.top);

    // x ticks (major + minor)
    for (let e = -2; e <= 5; e++) {
      for (let m = 1; m <= 9; m++) {
        const v = m * Math.pow(10, e);
        if (v < X_MIN * 0.9999 || v > X_MAX * 1.0001) continue;
        const px = xs.getPixelForValue(v);
        ctx.lineWidth = m === 1 ? 2 : 1.5;
        ctx.beginPath();
        ctx.moveTo(px, a.bottom);
        ctx.lineTo(px, a.bottom + (m === 1 ? 10 : 6));
        ctx.stroke();
      }
    }
    for (const e of X_TICK_EXPONENTS) {
      powerLabel(ctx, xs.getPixelForValue(Math.pow(10, e)), a.bottom + 50, e, 'center');
    }
    // y ticks
    ctx.lineWidth = 2;
    for (const e of Y_TICK_EXPONENTS) {
      const py = ys.getPixelForValue(Math.pow(10, e));
      ctx.beginPath();
      ctx.moveTo(a.left - 10, py);
      ctx.lineTo(a.left, py);
      ctx.stroke();
      powerLabel(ctx, a.left - 23, py + 14, e, 'right');
    }

    // axis titles
    ctx.fillStyle = '#000';
    {
      const base = 1187;
      const parts: Run[] = [
        { t: 't', f: `italic 48px ${SERIF}` },
        { t: '[', f: `48px ${SERIF}`, gap: 4 },
        { t: '\u03c9', f: `italic 48px ${SERIF}`, gap: 2 },
      ];
      ctx.font = `32px ${SERIF}`;
      const supW = ctx.measureText('\u22121').width;
      let total = 0;
      for (const p of parts) { ctx.font = p.f; total += (p.gap || 0) + ctx.measureText(p.t).width; }
      ctx.font = `48px ${SERIF}`;
      const brW = ctx.measureText(']').width;
      total += supW + 4 + brW;
      const x0 = (a.left + a.right) / 2 - total / 2;
      drawRuns(ctx, x0, base, parts, 'left');
      let cx = x0;
      for (const p of parts) { ctx.font = p.f; cx += (p.gap || 0) + ctx.measureText(p.t).width; }
      ctx.font = `32px ${SERIF}`;
      ctx.fillText('0', cx - 2, base + 11);
      ctx.fillText('\u22121', cx + 1, base - 22);
      ctx.font = `48px ${SERIF}`;
      ctx.fillText(']', cx + supW + 4, base);
    }
    {
      const base = 551;
      ctx.font = `italic 54px ${SERIF}`;
      ctx.fillText('P', 15, base);
      const pw = ctx.measureText('P').width;
      ctx.font = `italic 38px ${SERIF}`;
      const nx = 15 + pw - 3;
      ctx.fillText('\u03bd', nx, base + 7);
      const nw = ctx.measureText('\u03bd').width;
      ctx.fillText('\u03bd', nx + nw + 1, base + 7);
      ctx.lineWidth = 2;
      ctx.beginPath();
      ctx.moveTo(nx + nw + 5, base - 17);
      ctx.lineTo(nx + 2 * nw - 1, base - 17);
      ctx.stroke();
    }

    // annotations
    drawVLabel(ctx, 946, 134, ANNOTATION_VALUES[0], ORANGE);
    drawVLabel(ctx, 1680, 635, ANNOTATION_VALUES[1], BLUE);

    // legend
    ctx.strokeStyle = '#000';
    ctx.fillStyle = '#000';
    ctx.lineWidth = 4.2;
    const legendLines = [
      { x1: 279, x2: 378, dash: [] as number[] },
      { x1: 774, x2: 872, dash: [25, 6.5, 4, 6.5] },
      { x1: 1142, x2: 1242, dash: [15, 6.5] },
    ];
    const legendTextX = [413, 907, 1275];
    legendLines.forEach((l, i) => {
      ctx.setLineDash(l.dash);
      ctx.beginPath();
      ctx.moveTo(l.x1, 940);
      ctx.lineTo(l.x2, 940);
      ctx.stroke();
      ctx.setLineDash([]);
      ctx.font = `43px ${SERIF}`;
      const lines = LEGEND_LABELS[i];
      if (lines.length === 2) {
        ctx.fillText(lines[0], legendTextX[i], 928);
        ctx.fillText(lines[1], legendTextX[i], 971);
      } else {
        ctx.fillText(lines[0], legendTextX[i], 954);
      }
    });

    // watermark
    ctx.fillStyle = 'rgb(124,166,207)';
    ctx.font = `40px ${SANS}`;
    const w = ctx.measureText(WATERMARK).width;
    const size = 40 * 707 / w;
    ctx.font = `${size}px ${SANS}`;
    ctx.fillText(WATERMARK, -6, 1208);
    ctx.restore();
  },
};

function buildMain(canvas: HTMLCanvasElement) {
  const datasets: any[] = [];
  let order = 1000;
  const band = (top: number[][], bot: number[][], color: string) => {
    const i = datasets.length;
    datasets.push({
      data: logPts(top), borderColor: 'rgba(0,0,0,0)', borderWidth: 0, pointRadius: 0, tension: 0,
      fill: i + 1, backgroundColor: color, order: order--,
    });
    datasets.push({
      data: logPts(bot), borderColor: 'rgba(0,0,0,0)', borderWidth: 0, pointRadius: 0, tension: 0,
      fill: false, order: order--,
    });
  };
  const line = (arr: number[][], color: string, dash: number[]) => {
    datasets.push({
      data: logPts(arr), borderColor: color, borderWidth: LINE_W, borderDash: dash, pointRadius: 0,
      fill: false, cubicInterpolationMode: 'monotone', order: order--,
    });
  };
  band(orangeLightTopLog, orangeLightBottomLog, 'rgba(255,127,14,0.12)');
  band(orangeMidTopLog, orangeMidBottomLog, 'rgba(255,127,14,0.18)');
  band(orangeDarkTopLog, orangeDarkBottomLog, 'rgba(255,127,14,0.35)');
  line(orangeTheoryLog, ORANGE, DASHED);
  line(orangeMeanLog, ORANGE, DASHDOT);
  line(orangeSingleLog, ORANGE, []);
  band(blueLightTopLog, blueLightBottomLog, 'rgba(31,119,180,0.12)');
  band(blueMidTopLog, blueMidBottomLog, 'rgba(31,119,180,0.18)');
  band(blueDarkTopLog, blueDarkBottomLog, 'rgba(31,119,180,0.35)');
  line(blueTheoryLog, BLUE, DASHED);
  line(blueMeanLog, BLUE, DASHDOT);
  line(blueSingleLog, BLUE, []);

  return new Chart(canvas, {
    type: 'line',
    data: { datasets },
    options: {
      responsive: false,
      animation: false,
      events: [],
      layout: { padding: { left: 245, right: 2, top: 7, bottom: 132 } },
      plugins: { legend: { display: false }, tooltip: { enabled: false } },
      scales: {
        x: { type: 'logarithmic', min: X_MIN, max: X_MAX, display: false },
        y: { type: 'logarithmic', min: Math.pow(10, Y_MIN_EXP), max: Math.pow(10, Y_MAX_EXP), display: false },
      },
    } as any,
    plugins: [mainDecor],
  } as any);
}

function buildInset(canvas: HTMLCanvasElement, cfg: any) {
  const decor = {
    id: 'insetDecor',
    beforeDatasetsDraw(chart: any) {
      const { ctx, chartArea: a } = chart;
      const xs = chart.scales.x;
      ctx.save();
      ctx.fillStyle = '#fff';
      ctx.fillRect(a.left, a.top, a.right - a.left, a.bottom - a.top);
      ctx.strokeStyle = '#aaaaaa';
      ctx.lineWidth = 1.6;
      ctx.setLineDash([2, 4]);
      for (const k of INSET_GRID_MULTIPLES) {
        const px = xs.getPixelForValue(k * Math.PI);
        ctx.beginPath();
        ctx.moveTo(px, a.top);
        ctx.lineTo(px, a.bottom);
        ctx.stroke();
      }
      ctx.restore();
    },
    afterDatasetsDraw(chart: any) {
      const { ctx, chartArea: a } = chart;
      const xs = chart.scales.x;
      ctx.save();
      ctx.setLineDash([]);
      ctx.strokeStyle = cfg.color;
      ctx.lineWidth = 2;
      ctx.strokeRect(a.left, a.top, a.right - a.left, a.bottom - a.top);
      ctx.strokeStyle = '#000';
      ctx.fillStyle = '#000';
      ctx.font = `31px ${SERIF}`;
      ctx.textAlign = 'center';
      ctx.textBaseline = 'alphabetic';
      for (const t of INSET_TICKS) {
        const px = xs.getPixelForValue(t);
        ctx.beginPath();
        ctx.moveTo(px, a.bottom);
        ctx.lineTo(px, a.bottom + 8);
        ctx.stroke();
        ctx.fillText(String(t), px, a.bottom + 40);
      }
      ctx.restore();
    },
  };
  return new Chart(canvas, {
    type: 'line',
    data: {
      datasets: [
        {
          data: linPts(cfg.single), borderColor: cfg.color, borderWidth: 4.6, pointRadius: 0, fill: false,
          cubicInterpolationMode: 'monotone', order: 1,
        },
        {
          data: linPts(cfg.theory), borderColor: cfg.color, borderWidth: 4.6, borderDash: [16, 7], pointRadius: 0,
          fill: false, cubicInterpolationMode: 'monotone', order: 2,
        },
      ],
    },
    options: {
      responsive: false,
      animation: false,
      events: [],
      layout: { padding: cfg.pad },
      plugins: { legend: { display: false }, tooltip: { enabled: false } },
      scales: {
        x: { type: 'linear', min: 0, max: INSET_T_MAX, display: false },
        y: { type: 'linear', min: 0, max: 1, display: false },
      },
    } as any,
    plugins: [decor],
  } as any);
}

export default function App() {
  const mainRef = useRef<HTMLCanvasElement>(null);
  const oRef = useRef<HTMLCanvasElement>(null);
  const bRef = useRef<HTMLCanvasElement>(null);

  useEffect(() => {
    const charts: Chart[] = [];
    charts.push(buildMain(mainRef.current as HTMLCanvasElement));
    charts.push(buildInset(oRef.current as HTMLCanvasElement, {
      color: ORANGE, single: orangeInsetSingle, theory: orangeInsetTheory,
      pad: { left: 21, top: 19, right: 28, bottom: 62 },
    }));
    charts.push(buildInset(bRef.current as HTMLCanvasElement, {
      color: BLUE, single: blueInsetSingle, theory: blueInsetTheory,
      pad: { left: 26, top: 22, right: 36, bottom: 64 },
    }));
    return () => charts.forEach((c) => c.destroy());
  }, []);

  return (
    <div style={{ position: 'absolute', left: 0, top: 0, width: 2082, height: 1202, background: '#fff', overflow: 'hidden' }}>
      <canvas ref={mainRef} width={2082} height={1202} style={{ position: 'absolute', left: 0, top: 0, width: 2082, height: 1202 }} />
      <canvas ref={oRef} width={600} height={400} style={{ position: 'absolute', left: 280, top: 20, width: 600, height: 400 }} />
      <canvas ref={bRef} width={540} height={320} style={{ position: 'absolute', left: 1540, top: 750, width: 540, height: 320 }} />
    </div>
  );
}
